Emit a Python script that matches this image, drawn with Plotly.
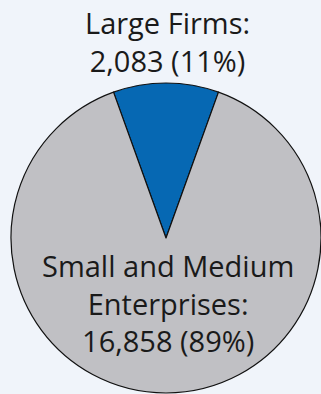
import plotly.graph_objects as go

# Firm counts by size class
categories = ["Large Firms", "Small and Medium<br>Enterprises"]
counts = [2083, 16858]
colors = ["#0668b3", "#c0c0c4"]

total = sum(counts)
shares = [c / total for c in counts]

# Start the first slice so that it is centred on the top of the pie
rotation = -shares[0] * 360 / 2

fig = go.Figure(
    go.Pie(
        labels=categories,
        values=counts,
        sort=False,
        direction="clockwise",
        rotation=rotation,
        marker=dict(colors=colors, line=dict(color="#111111", width=1.2)),
        textinfo="none",
        hoverinfo="label+value+percent",
        showlegend=False,
        domain=dict(x=[11 / 321, 321 / 321], y=[1 / 394, 1 - 83 / 394]),
    )
)

label_font = dict(family="'Open Sans', Lato, sans-serif", size=29, color="#1a1a1a")


def label_text(name, value, share):
    return f"{name}:<br>{value:,} ({share:.0%})"


# Large firms label sits above the pie, SME label inside the grey slice
fig.add_annotation(
    x=168 / 321, y=1 - 42 / 394, xref="paper", yref="paper",
    xanchor="center", yanchor="middle",
    text=label_text(categories[0], counts[0], shares[0]),
    showarrow=False, font=label_font, align="center",
)
fig.add_annotation(
    x=168 / 321, y=1 - 303 / 394, xref="paper", yref="paper",
    xanchor="center", yanchor="middle",
    text=label_text(categories[1], counts[1], shares[1]),
    showarrow=False, font=label_font, align="center",
)

fig.update_layout(
    width=321,
    height=394,
    margin=dict(l=0, r=0, t=0, b=0),
    paper_bgcolor="#f0f4fa",
    plot_bgcolor="#f0f4fa",
)

fig.write_html("out.html")
